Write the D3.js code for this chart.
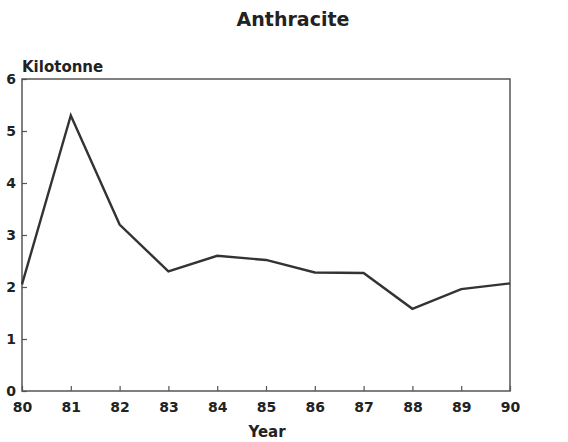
<!DOCTYPE html>
<html><head><meta charset="utf-8">
<script src="https://cdn.jsdelivr.net/npm/d3@7"></script>
<style>body{margin:0;background:#fff}text{font-family:"DejaVu Sans",sans-serif;font-weight:bold;fill:#222}</style>
</head><body><svg id="c" width="568" height="442"></svg>
<script>
const years = [80,81,82,83,84,85,86,87,88,89,90];
const values = [2.05,5.3,3.2,2.3,2.6,2.52,2.28,2.27,1.58,1.96,2.07];
const yTicks = [0,1,2,3,4,5,6];
const xTicks = years;

const svg = d3.select("#c");
const m = {l:22, r:510, t:79, b:391};
const x = d3.scaleLinear().domain([80,90]).range([m.l, m.r]);
const y = d3.scaleLinear().domain([0,6]).range([m.b, m.t]);
const FF = "DejaVu Sans, sans-serif";

svg.append("rect").attr("x",m.l).attr("y",m.t).attr("width",m.r-m.l).attr("height",m.b-m.t)
  .attr("fill","none").attr("stroke","#555").attr("stroke-width",1.5);

const ya = svg.append("g").attr("transform",`translate(${m.l},0)`)
  .call(d3.axisLeft(y).tickValues(yTicks).tickSize(-5).tickPadding(6).tickFormat(d3.format("d")));
ya.select(".domain").remove();
ya.selectAll("line").attr("stroke","#555").attr("stroke-width",1.2);
ya.selectAll("text").attr("font-size",14).style("font-family",FF).style("font-weight","bold").attr("fill","#222").attr("dy","0.3em");

const xa = svg.append("g").attr("transform",`translate(0,${m.b})`)
  .call(d3.axisBottom(x).tickValues(xTicks).tickSize(-5).tickPadding(11).tickFormat(d3.format("d")));
xa.select(".domain").remove();
xa.selectAll("line").attr("stroke","#555").attr("stroke-width",1.2);
xa.selectAll("text").attr("font-size",14).style("font-family",FF).style("font-weight","bold").attr("fill","#222");

const line = d3.line().x((d,i)=>x(years[i])).y(d=>y(d));
svg.append("path").datum(values).attr("d",line).attr("fill","none")
  .attr("stroke","#333").attr("stroke-width",2.4).attr("stroke-linejoin","miter");

svg.append("text").attr("x",293).attr("y",26).attr("text-anchor","middle").attr("font-size",19).text("Anthracite");
svg.append("text").attr("x",22).attr("y",72).attr("font-size",15).text("Kilotonne");
svg.append("text").attr("x",267).attr("y",437).attr("text-anchor","middle").attr("font-size",15).text("Year");
</script></body></html>
